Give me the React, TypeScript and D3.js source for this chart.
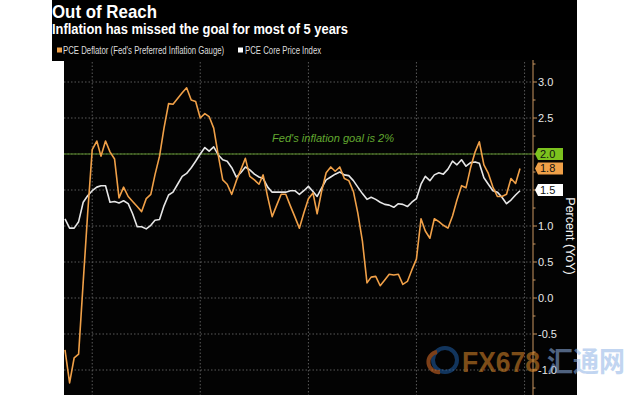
import React from "react";
import * as d3 from "d3";

const startMonth = new Date(2009, 6, 1);
const endMonth = new Date(2017, 11, 1);

const pceDeflator = [
  -0.72, -1.18, -0.83, -0.78, 0.22, 1.17, 2.06, 2.18, 1.97, 2.18,
  2.03, 1.93, 1.39, 1.54, 1.41, 1.34, 1.27, 1.2, 1.38, 1.44,
  1.71, 1.97, 2.36, 2.7, 2.69, 2.77, 2.85, 2.92, 2.75, 2.73,
  2.5, 2.56, 2.52, 2.36, 1.99, 1.64, 1.58, 1.44, 1.63, 1.78,
  1.94, 1.69, 1.64, 1.58, 1.71, 1.4, 1.13, 1.29, 1.44, 1.44,
  1.28, 1.13, 0.97, 1.18, 1.38, 1.46, 1.17, 1.49, 1.74, 1.82,
  1.76, 1.82, 1.66, 1.63, 1.48, 1.18, 0.79, 0.21, 0.29, 0.3,
  0.17, 0.25, 0.33, 0.32, 0.33, 0.19, 0.23, 0.39, 0.54, 1.1,
  0.93, 0.83, 1.1, 1.06, 1.01, 0.97, 1.14, 1.36, 1.56, 1.53,
  1.81, 2.03, 2.17, 1.85, 1.73, 1.54, 1.41, 1.41, 1.44, 1.66,
  1.59, 1.8,
];

const pceCore = [
  1.1, 0.97, 0.97, 1.06, 1.33, 1.42, 1.49, 1.54, 1.56, 1.56,
  1.33, 1.34, 1.32, 1.35, 1.31, 1.17, 0.99, 0.99, 0.96, 1.01,
  1.08, 1.09, 1.28, 1.43, 1.47, 1.58, 1.69, 1.73, 1.81, 1.9,
  2.0, 2.09, 2.04, 2.1, 1.99, 1.92, 1.9, 1.81, 1.68, 1.74,
  1.82, 1.78, 1.72, 1.68, 1.66, 1.54, 1.47, 1.47, 1.47, 1.47,
  1.49, 1.49, 1.44, 1.49, 1.55, 1.48, 1.41, 1.53, 1.64, 1.68,
  1.72, 1.75, 1.71, 1.7, 1.63, 1.54, 1.45, 1.37, 1.4, 1.37,
  1.33, 1.3, 1.29, 1.26, 1.31, 1.3, 1.27, 1.33, 1.38, 1.58,
  1.69, 1.63, 1.71, 1.74, 1.72, 1.79, 1.9, 1.85, 1.92, 1.83,
  1.88, 1.89, 1.87, 1.67, 1.58, 1.49, 1.47, 1.4, 1.31, 1.36,
  1.43, 1.49,
];

const goal = 2.0;
const yTicks = [-1.0, -0.5, 0.0, 0.5, 1.0, 1.5, 2.0, 2.5, 3.0];
const gridYears = [2010, 2012, 2014, 2016, 2018];
const seriesNames = ["PCE Deflator (Fed's Preferred Inflation Gauge)", "PCE Core Price Index"];
const endLabels = [
  { value: 2.0, text: "2.0", kind: "goal" },
  { value: 1.8, text: "1.8", kind: "deflator" },
  { value: 1.5, text: "1.5", kind: "core" },
];

const ORANGE = "#f0a048";
const WHITE = "#e6e6e6";
const GREEN = "#7cc21e";

export default function App() {
  const months = d3.timeMonths(startMonth, d3.timeMonth.offset(endMonth, 1));
  const x = d3.scaleTime().domain([startMonth, endMonth]).range([65, 520]);
  const y = d3.scaleLinear().domain([-1, 3]).range([370, 82]);
  const plotLeft = 64;
  const axisX = 533;

  const line = d3
    .line<number>()
    .x((_, i) => x(months[i]))
    .y((d) => y(d));

  const minorTicks = d3.range(-1.25, 3.26, 0.25).filter((v) => Math.abs((v * 2) % 1) > 0.01);
  const coveredTicks = endLabels.map((l) => l.value);

  const labelColors: Record<string, { fill: string; text: string }> = {
    goal: { fill: GREEN, text: "#111" },
    deflator: { fill: ORANGE, text: "#111" },
    core: { fill: "#ffffff", text: "#111" },
  };

  return (
    <svg
      width={643}
      height={395}
      style={{ position: "absolute", left: 0, top: 0, background: "#ffffff" }}
      fontFamily="'Liberation Sans', Arial, sans-serif"
    >
      <rect x={52} y={0} width={525} height={61} fill="#000" />
      <rect x={plotLeft} y={60} width={577 - plotLeft} height={335} fill="#030303" />

      <text x={52} y={18} fill="#fff" fontSize={19} fontWeight="bold" textLength={105} lengthAdjust="spacingAndGlyphs">
        Out of Reach
      </text>
      <text x={52} y={33.5} fill="#fff" fontSize={14} fontWeight="bold" textLength={296} lengthAdjust="spacingAndGlyphs">
        Inflation has missed the goal for most of 5 years
      </text>

      <rect x={57} y={47.5} width={5} height={5} fill={ORANGE} />
      <g transform="translate(63,53.5) scale(0.78,1)">
        <text x={0} y={0} fill="#ddd" fontSize={10}>
          {seriesNames[0]}
        </text>
      </g>
      <rect x={238} y={47.5} width={5} height={5} fill="#fff" />
      <g transform="translate(245,53.5) scale(0.78,1)">
        <text x={0} y={0} fill="#ddd" fontSize={10}>
          {seriesNames[1]}
        </text>
      </g>

      {yTicks.map((t) => (
        <line key={"h" + t} x1={plotLeft} x2={axisX} y1={y(t)} y2={y(t)} stroke="#5a5a5a" strokeWidth={1} strokeDasharray="1.5,2" />
      ))}
      {gridYears.map((yr) => {
        const gx = x(new Date(yr, 0, 1));
        return <line key={"v" + yr} x1={gx} x2={gx} y1={62} y2={395} stroke="#5a5a5a" strokeWidth={1} strokeDasharray="1.5,2" />;
      })}

      <line x1={plotLeft} x2={axisX} y1={y(goal)} y2={y(goal)} stroke="#5c8f2a" strokeWidth={1.2} />
      <text x={272} y={142} fill="#62a830" fontSize={11.5} fontStyle="italic" textLength={122} lengthAdjust="spacingAndGlyphs">
        Fed's inflation goal is 2%
      </text>

      <path d={line(pceCore) || ""} fill="none" stroke={WHITE} strokeWidth={1.6} strokeLinejoin="round" />
      <path d={line(pceDeflator) || ""} fill="none" stroke={ORANGE} strokeWidth={1.6} strokeLinejoin="round" />

      <line x1={axisX} x2={axisX} y1={60} y2={395} stroke="#c89560" strokeWidth={1} />
      {yTicks.map((t) => (
        <g key={"t" + t}>
          <line x1={axisX} x2={axisX + 4} y1={y(t)} y2={y(t)} stroke="#c89560" />
          {coveredTicks.includes(t) ? null : (
            <text x={538} y={y(t) + 4} fill="#e8e8e8" fontSize={11}>
              {t.toFixed(1)}
            </text>
          )}
        </g>
      ))}
      {minorTicks.map((t) => (
        <line key={"m" + t} x1={axisX} x2={axisX + 2.5} y1={y(t)} y2={y(t)} stroke="#c89560" />
      ))}

      {endLabels.map((l) => {
        const cy = y(l.value);
        const c = labelColors[l.kind];
        return (
          <g key={l.kind}>
            <path
              d={`M${535},${cy} L${538},${cy - 6} L${563},${cy - 6} L${563},${cy + 6} L${538},${cy + 6} Z`}
              fill={c.fill}
            />
            <text x={540} y={cy + 4} fill={c.text} fontSize={11}>
              {l.text}
            </text>
          </g>
        );
      })}

      <text
        transform={`translate(566,236) rotate(90)`}
        textAnchor="middle"
        fill="#f0f0f0"
        fontSize={12.5}
      >
        Percent (YoY)
      </text>

      <g opacity={0.55}>
        <circle cx={445} cy={360} r={12} fill="none" stroke="#1f5fa8" strokeWidth={4} />
        <path d="M437,352 A10,10 0 0,0 440,372" fill="none" stroke="#e0702a" strokeWidth={4} />
        <text x={462} y={372} fill="#e08a2a" fontSize={30} fontWeight="bold" textLength={78} lengthAdjust="spacingAndGlyphs">
          FX678
        </text>
        <text x={547} y={372} fill="#8fb3e6" fontSize={28} fontWeight="bold" fontFamily="'Noto Sans CJK SC', sans-serif" textLength={78} lengthAdjust="spacingAndGlyphs">
          汇通网
        </text>
      </g>
    </svg>
  );
}
